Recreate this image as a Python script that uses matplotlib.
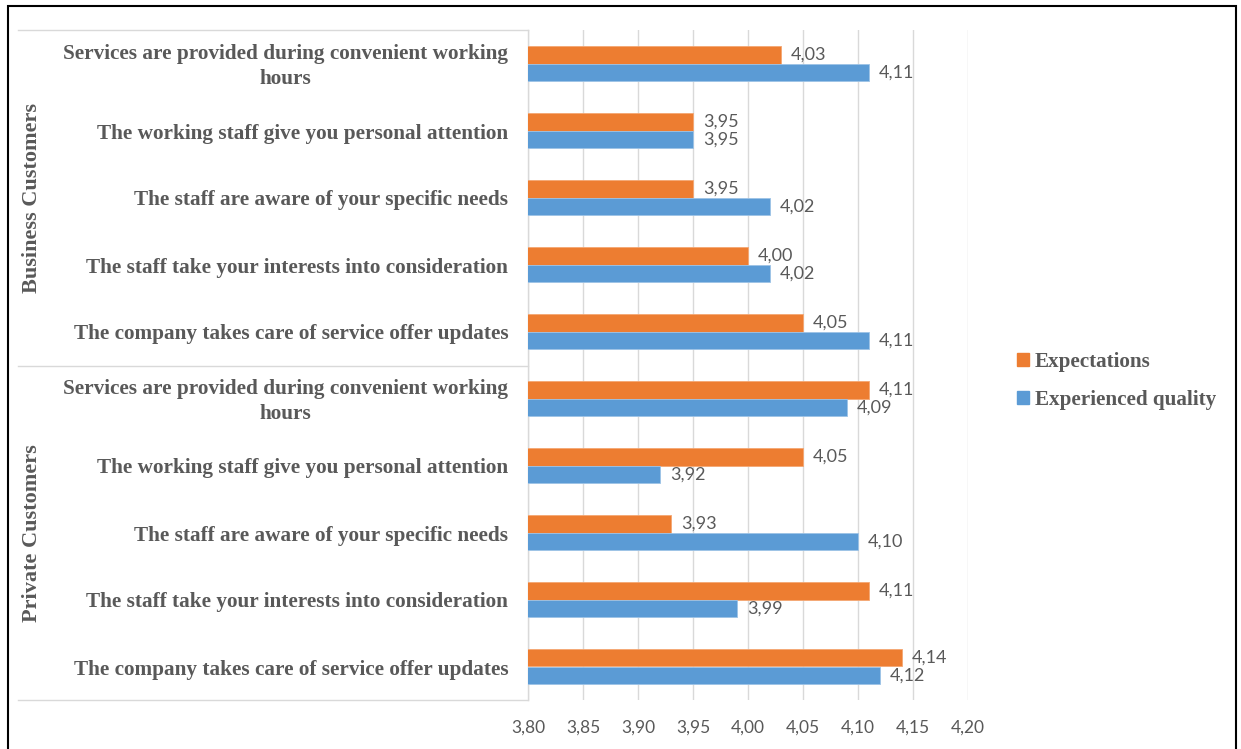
import matplotlib
matplotlib.use("Agg")
import matplotlib.pyplot as plt
import numpy as np
from matplotlib.lines import Line2D
from matplotlib.patches import Rectangle
from matplotlib.transforms import ScaledTranslation

# rows from top to bottom
items = [
    "Services are provided during convenient working\nhours",
    "The working staff give you personal attention",
    "The staff are aware of your specific needs",
    "The staff take your interests into consideration",
    "The company takes care of service offer updates",
]
groups = ["Business Customers", "Private Customers"]
expectations = [4.03, 3.95, 3.95, 4.00, 4.05, 4.11, 4.05, 3.93, 4.11, 4.14]
experienced = [4.11, 3.95, 4.02, 4.02, 4.11, 4.09, 3.92, 4.10, 3.99, 4.12]
x_ticks = [3.80, 3.85, 3.90, 3.95, 4.00, 4.05, 4.10, 4.15, 4.20]

ORANGE = "#ED7D31"
BLUE = "#5B9BD5"
TEXT = "#595959"
GRID = "#D9D9D9"
SERIF = ["Liberation Serif", "DejaVu Serif"]
NUMF = ["Lato", "DejaVu Sans"]

W, H = 1241, 749
fig = plt.figure(figsize=(W / 100, H / 100), dpi=100)
ax = fig.add_axes([528 / W, 1 - 700 / H, 440 / W, 670 / H])

n = len(expectations)
y = np.arange(n)
bh = 0.26
ax.barh(y - bh / 2, expectations, height=bh, color=ORANGE, edgecolor="#F4A773", linewidth=0.6, zorder=3)
ax.barh(y + bh / 2, experienced, height=bh, color=BLUE, edgecolor="#9DC3E6", linewidth=0.6, zorder=3)

for yi, v in zip(y - bh / 2, expectations):
    ax.text(v + 0.009, yi, f"{v:.2f}".replace(".", ","), va="center", ha="left",
            fontsize=13, color=TEXT, family=NUMF)
for yi, v in zip(y + bh / 2, experienced):
    ax.text(v + 0.009, yi, f"{v:.2f}".replace(".", ","), va="center", ha="left",
            fontsize=13, color=TEXT, family=NUMF)

ax.set_xlim(3.80, 4.20)
ax.set_ylim(n - 0.5, -0.5)
ax.set_xticks(x_ticks)
ax.set_xticklabels([f"{t:.2f}".replace(".", ",") for t in x_ticks], fontsize=12.5,
                   color=TEXT, family=NUMF)
ax.tick_params(axis="x", length=0, pad=14)
ax.set_yticks([])
ax.grid(axis="x", color=GRID, linewidth=1, zorder=0)
for s in ["top", "right", "bottom"]:
    ax.spines[s].set_visible(False)
ax.spines["left"].set_color(GRID)
ax.spines["left"].set_linewidth(1)

# category labels, nudged down a little like the original
labels = items + items
shift = ScaledTranslation(0, -3 / 100, fig.dpi_scale_trans)
for i, lab in enumerate(labels):
    ax.text(-0.045, i, lab, transform=ax.get_yaxis_transform() + shift, ha="right",
            va="center", multialignment="center", fontsize=15.3, fontweight="bold",
            color=TEXT, family=SERIF, linespacing=1.3)

# group labels and separators
def fy(py):
    return 1 - py / H

for g, (top, bot) in zip(groups, [(30, 366), (366, 700)]):
    fig.text(32 / W, fy((top + bot) / 2), g, rotation=90, ha="center", va="center",
             fontsize=16, fontweight="bold", color=TEXT, family=SERIF)
for py in [30, 366, 700]:
    fig.add_artist(Line2D([18 / W, 528 / W], [fy(py), fy(py)], color=GRID, linewidth=1))

# legend
handles = [Rectangle((0, 0), 1, 1, color=ORANGE), Rectangle((0, 0), 1, 1, color=BLUE)]
fig.legend(handles, ["Expectations", "Experienced quality"], loc="center left",
           bbox_to_anchor=(998 / W, fy(381)), frameon=False, handlelength=0.55,
           handleheight=0.55, handletextpad=0.3, labelspacing=0.85,
           prop={"family": SERIF, "weight": "bold", "size": 15.2}, labelcolor=TEXT)

# outer border
fig.add_artist(Rectangle((8 / W, -0.05), 1228 / W, fy(6) + 0.05, fill=False,
                         edgecolor="black", linewidth=1.5, transform=fig.transFigure))

fig.savefig("out.png", dpi=100, facecolor="white")
